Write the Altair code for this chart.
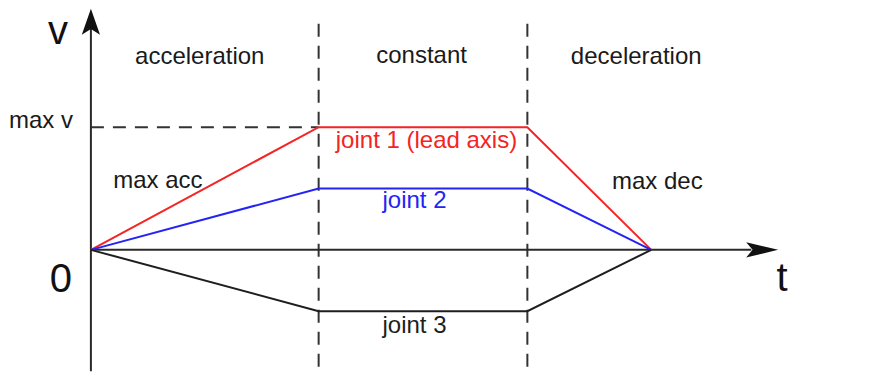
import altair as alt
import pandas as pd

# ---- data (time / velocity units) ----
t_break = [0.0, 2.0, 3.833, 4.921]          # start, end accel, end constant, end decel
joints = ["joint 1 (lead axis)", "joint 2", "joint 3"]
v_cruise = [1.0, 0.5, -0.5]
joint_colors = ["#f42424", "#2424f4", "#1e1e1e"]

phase_labels = ["acceleration", "constant", "deceleration"]
phase_t = [0.956, 2.904, 4.789]
phase_v = [1.512, 1.520, 1.512]

side_labels = ["max acc", "max dec", "max v"]
side_t = [0.588, 4.974, -0.439]
side_v = [0.504, 0.496, 0.996]

joint_lab_t = [2.947, 2.842, 2.842]
joint_lab_v = [0.827, 0.343, -0.681]

axis_labels = ["v", "0", "t"]
axis_lab_t = [-0.289, -0.263, 6.070]
axis_lab_v = [1.681, -0.343, -0.335]

X_DOM = [-0.7193, 6.8684]
Y_DOM = [-0.9879, 1.9556]


def X(field):
    return alt.X(field, scale=alt.Scale(domain=X_DOM, nice=False, zero=False), axis=None)


def Y(field):
    return alt.Y(field, scale=alt.Scale(domain=Y_DOM, nice=False, zero=False), axis=None)


rows = []
for j, vc in zip(joints, v_cruise):
    for i, (tt, vv) in enumerate(zip(t_break, [0.0, vc, vc, 0.0])):
        rows.append(dict(joint=j, t=tt, v=vv, seq=i))
lines_df = pd.DataFrame(rows)

color_scale = alt.Scale(domain=joints, range=joint_colors)

lines = alt.Chart(lines_df).mark_line(strokeWidth=2).encode(
    x=X("t:Q"),
    y=Y("v:Q"),
    color=alt.Color("joint:N", scale=color_scale, legend=None),
    order="seq:Q",
)

# dashed phase separators
sep_df = pd.DataFrame({"t": [t_break[1], t_break[2]], "v1": [1.843, 1.843], "v2": [-0.99, -0.99]})
seps = alt.Chart(sep_df).mark_rule(strokeDash=[13, 9], strokeWidth=2, color="#333333").encode(
    x=X("t:Q"), y=Y("v1:Q"), y2="v2:Q"
)

maxv_df = pd.DataFrame({"t0": [0.0], "t1": [t_break[1]], "v": [v_cruise[0]]})
maxv = alt.Chart(maxv_df).mark_rule(strokeDash=[13, 9], strokeWidth=2, color="#333333").encode(
    x=X("t0:Q"), x2="t1:Q", y=Y("v:Q")
)

# axes
yaxis_df = pd.DataFrame({"t": [0.0], "v1": [-0.99], "v2": [1.80]})
yaxis = alt.Chart(yaxis_df).mark_rule(strokeWidth=2, color="#2a2a2a").encode(
    x=X("t:Q"), y=Y("v1:Q"), y2="v2:Q"
)
xaxis_df = pd.DataFrame({"t0": [0.0], "t1": [5.8], "v": [0.0]})
xaxis = alt.Chart(xaxis_df).mark_rule(strokeWidth=2, color="#2a2a2a").encode(
    x=X("t0:Q"), x2="t1:Q", y=Y("v:Q")
)

up_df = pd.DataFrame({"t": [0.0], "v": [1.859]})
up_arrow = alt.Chart(up_df).mark_point(
    shape="M0,-1L0.7,1L0,0.55L-0.7,1Z", filled=True, size=676, opacity=1,
    color="#111111"
).encode(x=X("t:Q"), y=Y("v:Q"))

right_df = pd.DataFrame({"t": [5.895], "v": [0.0]})
right_arrow = alt.Chart(right_df).mark_point(
    shape="M1,0L-1,-0.48L-0.6,0L-1,0.48Z", filled=True, size=1024, opacity=1,
    color="#111111"
).encode(x=X("t:Q"), y=Y("v:Q"))

FONT = "Liberation Sans"

norm_df = pd.DataFrame({
    "text": phase_labels + side_labels,
    "t": phase_t + side_t,
    "v": phase_v + side_v,
})
norm_text = alt.Chart(norm_df).mark_text(
    font=FONT, fontSize=24, color="#1a1a1a", align="center", baseline="alphabetic"
).encode(x=X("t:Q"), y=Y("v:Q"), text="text:N")

jl_df = pd.DataFrame({"joint": joints, "t": joint_lab_t, "v": joint_lab_v})
joint_text = alt.Chart(jl_df).mark_text(
    font=FONT, fontSize=24, align="center", baseline="alphabetic"
).encode(
    x=X("t:Q"), y=Y("v:Q"), text="joint:N",
    color=alt.Color("joint:N", scale=color_scale, legend=None),
)

ax_df = pd.DataFrame({"text": axis_labels, "t": axis_lab_t, "v": axis_lab_v})
ax_text = alt.Chart(ax_df).mark_text(
    font=FONT, fontSize=40, color="#111111", align="center", baseline="alphabetic"
).encode(x=X("t:Q"), y=Y("v:Q"), text="text:N")

chart = alt.layer(
    seps, maxv, xaxis, yaxis, lines, up_arrow, right_arrow, norm_text, joint_text, ax_text
).properties(
    width=865, height=365, padding=0,
    autosize=alt.AutoSizeParams(type="fit", contains="padding"),
    background="white",
).configure_view(stroke=None)

chart.save("out.html", embed_options={"renderer": "svg", "actions": False})
